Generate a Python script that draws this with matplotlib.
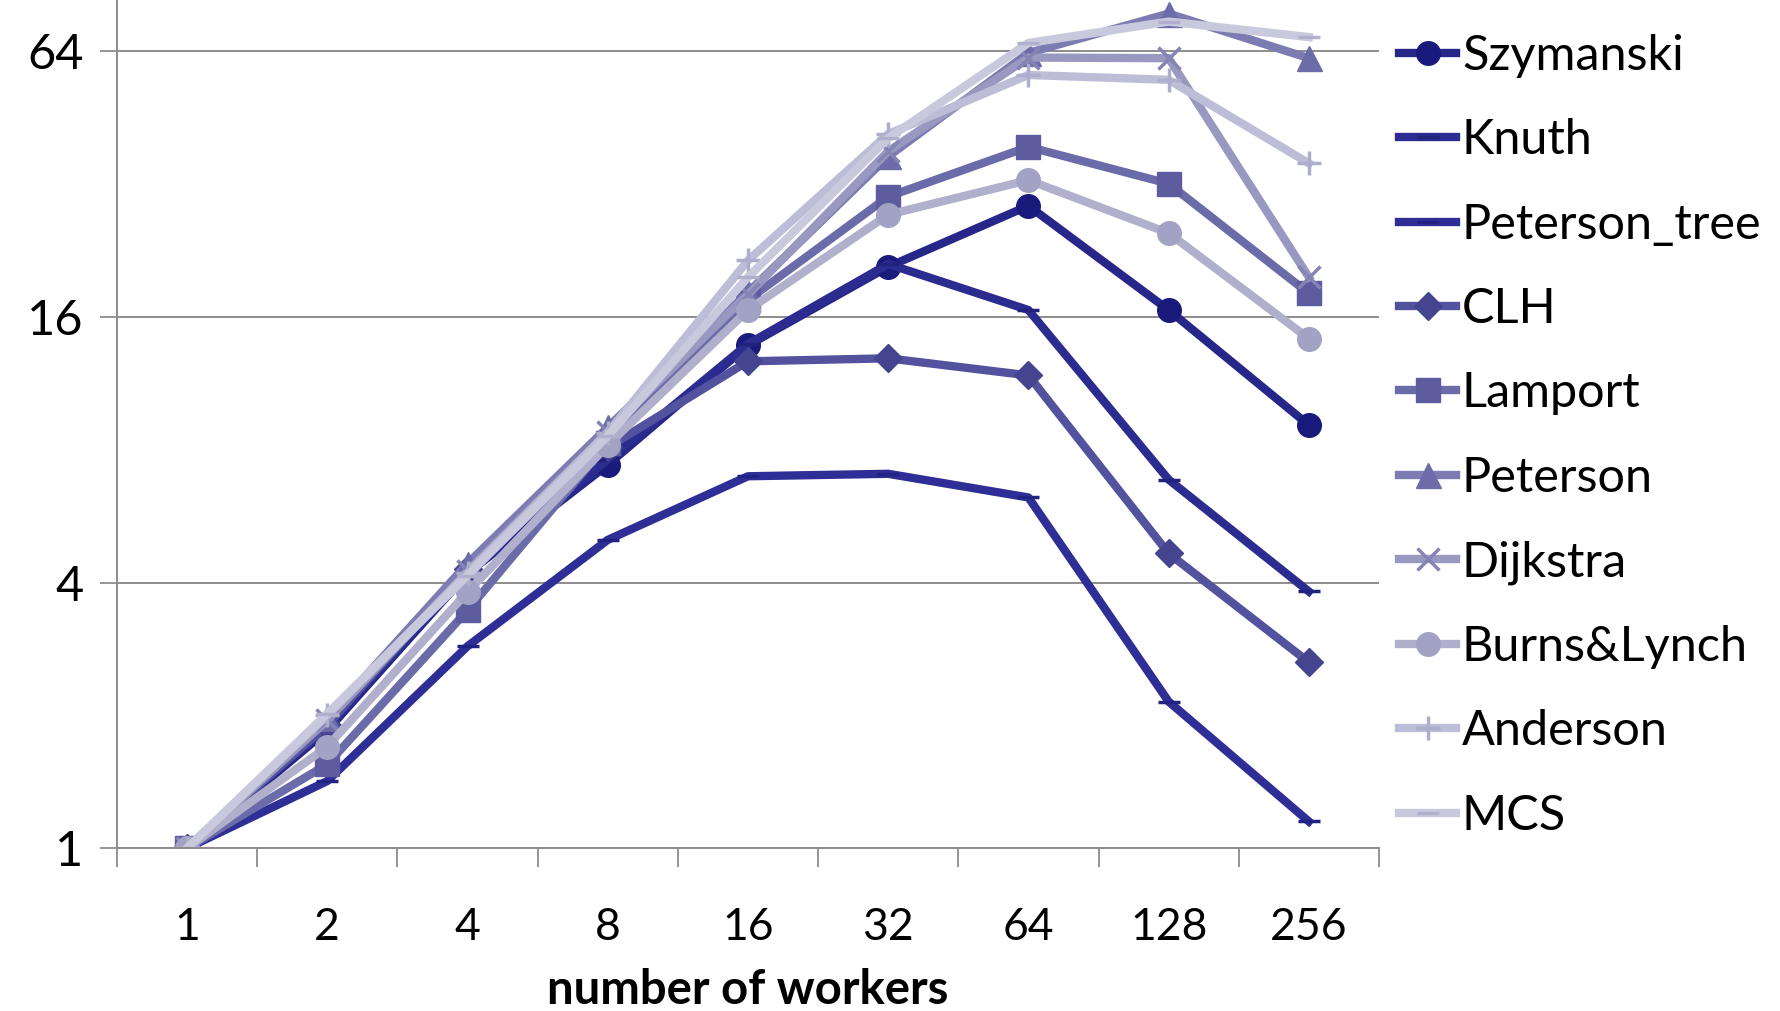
import matplotlib.pyplot as plt
from matplotlib.ticker import FixedLocator, NullFormatter, NullLocator

plt.rcParams['font.family'] = ['Lato', 'DejaVu Sans']

# numero de workers (eje x, categorias)
workers = ['1', '2', '4', '8', '16', '32', '64', '128', '256']

# speedup de cada algoritmo
szymanski = [1, 1.85, 4.2, 7.4, 13.8, 20.8, 28.6, 16.6, 9.1]
knuth = [1, 1.88, 4.2, 7.6, 13.9, 21.1, 16.6, 6.85, 3.82]
peterson_tree = [1, 1.42, 2.87, 5.0, 6.97, 7.06, 6.24, 2.15, 1.15]
clh = [1, 1.9, 4.3, 8.1, 12.7, 12.9, 11.8, 4.66, 2.64]
lamport = [1, 1.55, 3.46, 8.3, 17.5, 30.0, 38.9, 32.1, 18.1]
peterson = [1, 1.97, 4.42, 9.0, 18.2, 37.0, 63.5, 78.0, 61.8]
dijkstra = [1, 1.95, 4.25, 8.8, 18.0, 38.0, 62.0, 61.8, 19.7]
burns_lynch = [1, 1.70, 3.81, 8.2, 16.6, 27.3, 32.7, 24.8, 14.3]
anderson = [1, 2.0, 4.2, 8.75, 21.5, 41.6, 56.6, 55.2, 35.7]
mcs = [1, 2.02, 4.15, 8.6, 19.7, 40.7, 66.9, 74.8, 69.0]

series = [
    ('Szymanski', szymanski, '#27278a', 'o', '#1a1a7c', 17),
    ('Knuth', knuth, '#2c2c90', '_', '#22227e', 16),
    ('Peterson_tree', peterson_tree, '#2e2e96', '_', '#222284', 16),
    ('CLH', clh, '#52529f', 'D', '#45458f', 14),
    ('Lamport', lamport, '#6b6ba9', 's', '#5c5c9f', 17),
    ('Peterson', peterson, '#7c7cb2', '^', '#6c6ca8', 18),
    ('Dijkstra', dijkstra, '#9898c0', 'x', '#8585b5', 16),
    ('Burns&Lynch', burns_lynch, '#b0b0cd', 'o', '#a2a2c4', 17),
    ('Anderson', anderson, '#bdbdd7', '+', '#adadcc', 17),
    ('MCS', mcs, '#c9c9de', '_', '#b0b0cc', 16),
]

fig = plt.figure(figsize=(17.8, 10.11), dpi=100)
ax = fig.add_axes([0.0657, 0.161, 0.709, 0.838])

x = list(range(len(workers)))
for nombre, valores, color, marca, color_marca, tam in series:
    ax.plot(x, valores, color=color, linewidth=6, marker=marca, markersize=tam,
            markerfacecolor=color_marca, markeredgecolor=color_marca,
            markeredgewidth=2.5 if marca in ('x', '+', '_') else 1, label=nombre,
            solid_joinstyle='round')

ax.set_yscale('log', base=2)
ax.set_ylim(1, 2 ** 6.38)
ax.yaxis.set_major_locator(FixedLocator([1, 4, 16, 64]))
ax.yaxis.set_minor_locator(NullLocator())
ax.set_yticklabels(['1', '4', '16', '64'])
ax.yaxis.set_minor_formatter(NullFormatter())

ax.set_xlim(-0.5, len(workers) - 0.5)
ax.set_xticks(x)
ax.set_xticklabels(workers)
ax.set_xticks([i - 0.5 for i in range(len(workers) + 1)], minor=True)
ax.tick_params(axis='x', which='major', length=0, pad=42, labelsize=32)
ax.tick_params(axis='x', which='minor', length=14, width=1.3, color='#8c8c8c', direction='out')
ax.tick_params(axis='y', which='major', length=12, width=1.3, color='#8c8c8c',
               direction='out', labelsize=35, pad=12)

ax.grid(axis='y', color='#8c8c8c', linewidth=1.4)
ax.set_axisbelow(True)
for lado in ['top', 'right']:
    ax.spines[lado].set_visible(False)
for lado in ['left', 'bottom']:
    ax.spines[lado].set_color('#8c8c8c')
    ax.spines[lado].set_linewidth(1.4)

ax.set_xlabel('number of workers', fontsize=34, fontweight='bold', labelpad=15)

ax.legend(loc='upper left', bbox_to_anchor=(1.016, 0.961), frameon=False, fontsize=35,
          handlelength=1.17, handletextpad=0.12, labelspacing=0.83, borderaxespad=0,
          borderpad=0)

fig.savefig('out.png', dpi=100)
